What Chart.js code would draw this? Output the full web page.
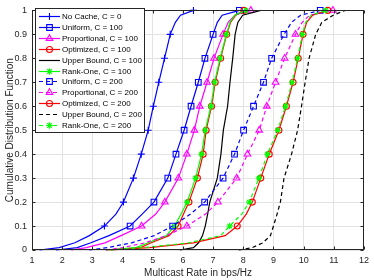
<!DOCTYPE html>
<html><head><meta charset="utf-8">
<script src="https://cdn.jsdelivr.net/npm/chart.js@4/dist/chart.umd.min.js"></script>
<style>html,body{margin:0;padding:0;background:#fff;}#wrap{width:374px;height:280px;}</style>
</head><body><div id="wrap"><canvas id="c" width="374" height="280"></canvas></div>
<script>
// CDF levels (y values) shared by all series
const cdfLevels = [0, 0.01, 0.03, 0.06, 0.1, 0.15, 0.2, 0.3, 0.4, 0.5, 0.6, 0.7, 0.8, 0.9, 0.95, 0.98, 1];
const markerLevels = [0.1, 0.2, 0.3, 0.4, 0.5, 0.6, 0.7, 0.8, 0.9, 1];
// multicast rate (bps/Hz) reached at each CDF level
const noCache    = [1.25, 1.9, 2.42, 2.9, 3.4, 3.78, 4.03, 4.36, 4.62, 4.85, 5.02, 5.2, 5.39, 5.58, 5.75, 5.92, 6.35];
const uniform100 = [1.8, 2.5, 2.95, 3.55, 4.25, 4.65, 5.04, 5.5, 5.77, 6.04, 6.27, 6.51, 6.73, 7.0, 7.14, 7.3, 7.87];
const prop100    = [2.3, 2.8, 3.42, 3.95, 4.63, 5.1, 5.4, 5.85, 6.13, 6.38, 6.56, 6.8, 7.03, 7.33, 7.5, 7.72, 8.25];
const opt100     = [3.45, 4.6, 4.95, 5.54, 5.84, 6.02, 6.2, 6.48, 6.67, 6.77, 6.95, 7.07, 7.25, 7.45, 7.58, 7.75, 8.02];
const rank100    = [3.45, 4.45, 4.85, 5.45, 5.72, 5.94, 6.14, 6.42, 6.62, 6.74, 6.93, 7.05, 7.23, 7.44, 7.56, 7.72, 8.09];
const upper100   = [5.9, 6.35, 6.52, 6.65, 6.74, 6.82, 6.89, 7.14, 7.26, 7.34, 7.48, 7.56, 7.65, 7.73, 7.82, 7.98, 8.58];
const uniform200 = [2.9, 3.5, 4.3, 5.05, 5.66, 6.25, 6.72, 7.33, 7.71, 8.01, 8.34, 8.67, 8.94, 9.35, 9.6, 9.9, 10.55];
const prop200    = [3.45, 4.0, 4.75, 5.45, 6.13, 6.75, 7.16, 7.78, 8.14, 8.53, 8.78, 9.07, 9.37, 9.73, 9.95, 10.2, 10.97];
const opt200     = [3.6, 4.9, 6.35, 7.4, 7.8, 8.1, 8.3, 8.58, 8.86, 9.18, 9.43, 9.65, 9.82, 9.98, 10.1, 10.3, 10.8];
const rank200    = [3.6, 4.7, 6.2, 7.25, 7.55, 7.95, 8.2, 8.52, 8.8, 9.14, 9.4, 9.62, 9.8, 9.96, 10.07, 10.25, 10.73];
const upper200   = [7.85, 8.3, 8.65, 8.9, 9.0, 9.12, 9.23, 9.35, 9.6, 9.8, 9.93, 10.05, 10.18, 10.4, 10.6, 10.98, 11.38];

const seriesNames = ['No Cache, C = 0', 'Uniform, C = 100', 'Proportional, C = 100', 'Optimized, C = 100',
  'Upper Bound, C = 100', 'Rank-One, C = 100', 'Uniform, C = 200', 'Proportional, C = 200',
  'Optimized, C = 200', 'Upper Bound, C = 200', 'Rank-One, C = 200'];
const seriesValues = [noCache, uniform100, prop100, opt100, upper100, rank100, uniform200, prop200, opt200, upper200, rank200];
const xTicks = [1, 2, 3, 4, 5, 6, 7, 8, 9, 10, 11, 12];
const yTicks = [0, 0.1, 0.2, 0.3, 0.4, 0.5, 0.6, 0.7, 0.8, 0.9, 1];
const yTickLabels = ['0', '0.1', '0.2', '0.3', '0.4', '0.5', '0.6', '0.7', '0.8', '0.9', '1'];
const xTitle = 'Multicast Rate in bps/Hz';
const yTitle = 'Cumulative Distribution Function';

// styles
const styles = [
  {c:'#0000ff', m:'cross', r:3.5, dash:[]},
  {c:'#0000ff', m:'rect', r:4, dash:[]},
  {c:'#ff00ff', m:'triangle', r:3.8, dash:[]},
  {c:'#ff0000', m:'circle', r:3, dash:[]},
  {c:'#000000', m:false, r:0, dash:[]},
  {c:'#00ff00', m:'star', r:3.2, dash:[]},
  {c:'#0000ff', m:'rect', r:4, dash:[4,3]},
  {c:'#ff00ff', m:'triangle', r:3.8, dash:[4,3]},
  {c:'#ff0000', m:'circle', r:3, dash:[]},
  {c:'#000000', m:false, r:0, dash:[4,3]},
  {c:'#00ff00', m:'star', r:3.2, dash:[4,3]}
];
const FONT = "'Liberation Sans', Arial, Helvetica, sans-serif";

const datasets = seriesValues.map((vals, i) => {
  const s = styles[i];
  return {
    label: seriesNames[i],
    data: vals.map((v, k) => ({x: v, y: cdfLevels[k]})),
    showLine: true,
    borderColor: s.c,
    backgroundColor: 'rgba(0,0,0,0)',
    borderWidth: 1.2,
    borderDash: s.dash,
    pointStyle: s.m || 'circle',
    pointBorderColor: s.c,
    pointBackgroundColor: 'rgba(0,0,0,0)',
    pointBorderWidth: 1.1,
    pointRadius: ctx => (s.m && markerLevels.includes(cdfLevels[ctx.dataIndex])) ? s.r : 0,
    pointHoverRadius: 0,
    tension: 0,
    clip: false,
    order: seriesValues.length - i
  };
});

function drawMarker(ctx, m, x, y, r, color) {
  ctx.save();
  ctx.strokeStyle = color; ctx.lineWidth = 1.1; ctx.setLineDash([]);
  ctx.beginPath();
  if (m === 'cross') {
    ctx.moveTo(x - r, y); ctx.lineTo(x + r, y); ctx.moveTo(x, y - r); ctx.lineTo(x, y + r);
  } else if (m === 'rect') {
    const h = r * Math.SQRT1_2; ctx.rect(x - h, y - h, 2 * h, 2 * h);
  } else if (m === 'triangle') {
    ctx.moveTo(x, y - r); ctx.lineTo(x + r * 0.866, y + r * 0.5); ctx.lineTo(x - r * 0.866, y + r * 0.5); ctx.closePath();
  } else if (m === 'circle') {
    ctx.arc(x, y, r, 0, Math.PI * 2);
  } else if (m === 'star') {
    for (let a = 0; a < 4; a++) {
      const ang = a * Math.PI / 4;
      ctx.moveTo(x - r * Math.cos(ang), y - r * Math.sin(ang));
      ctx.lineTo(x + r * Math.cos(ang), y + r * Math.sin(ang));
    }
  }
  ctx.stroke();
  ctx.restore();
}

const framePlugin = {
  id: 'frame',
  afterDatasetsDraw(chart) {
    const {ctx, chartArea: a, scales} = chart;
    const L = Math.round(a.left) + 0.5, R = Math.round(a.right) - 0.5;
    const T = Math.round(a.top) + 0.5, B = Math.round(a.bottom) - 0.5;
    ctx.save();
    ctx.strokeStyle = '#262626'; ctx.lineWidth = 1; ctx.setLineDash([]);
    ctx.strokeRect(L, T, R - L, B - T);
    ctx.beginPath();
    xTicks.forEach(v => {
      const px = Math.round(scales.x.getPixelForValue(v)) + 0.5;
      ctx.moveTo(px, B); ctx.lineTo(px, B - 3);
      ctx.moveTo(px, T); ctx.lineTo(px, T + 3);
    });
    yTicks.forEach(v => {
      const py = Math.round(scales.y.getPixelForValue(v)) + 0.5;
      ctx.moveTo(L, py); ctx.lineTo(L + 3, py);
      ctx.moveTo(R, py); ctx.lineTo(R - 3, py);
    });
    ctx.stroke();

    // legend
    const bx = 35.5, by = 8.5, bw = 109, bh = 124, row0 = 16, dy = 10.9;
    ctx.fillStyle = '#ffffff';
    ctx.fillRect(bx, by, bw, bh);
    ctx.strokeStyle = '#262626';
    ctx.strokeRect(bx, by, bw, bh);
    ctx.font = '8px ' + FONT;
    ctx.textBaseline = 'middle';
    ctx.textAlign = 'left';
    seriesNames.forEach((name, i) => {
      const s = styles[i];
      const yy = Math.round(row0 + i * dy) + 0.5;
      ctx.save();
      ctx.strokeStyle = s.c; ctx.lineWidth = 1.2; ctx.setLineDash(s.dash);
      ctx.beginPath(); ctx.moveTo(39, yy); ctx.lineTo(60, yy); ctx.stroke();
      ctx.restore();
      if (s.m) drawMarker(ctx, s.m, 49.5, yy, s.r, s.c);
      ctx.fillStyle = '#000000';
      ctx.fillText(name, 62, yy);
    });
    ctx.restore();
  }
};

new Chart(document.getElementById('c'), {
  type: 'scatter',
  data: {datasets},
  options: {
    responsive: false,
    animation: false,
    devicePixelRatio: 1,
    layout: {padding: {top: 5, right: 6, left: 0, bottom: 0}},
    plugins: {legend: {display: false}, tooltip: {enabled: false}},
    scales: {
      x: {
        type: 'linear', min: 1, max: 12,
        afterBuildTicks: s => { s.ticks = xTicks.map(v => ({value: v})); },
        afterFit: s => { s.height = 30; },
        ticks: {color: '#262626', font: {size: 9, family: FONT}, padding: 5, maxRotation: 0,
          callback: (v, i) => String(xTicks[i])},
        grid: {color: '#e3e3e3', drawTicks: false},
        border: {display: false},
        title: {display: true, text: xTitle, color: '#262626', font: {size: 10, family: FONT}, padding: {top: 0, bottom: 1}}
      },
      y: {
        type: 'linear', min: 0, max: 1,
        afterBuildTicks: s => { s.ticks = yTicks.map(v => ({value: v})); },
        afterFit: s => { s.width = 32; },
        ticks: {color: '#262626', font: {size: 9, family: FONT}, padding: 5,
          callback: (v, i) => yTickLabels[i]},
        grid: {color: '#e3e3e3', drawTicks: false},
        border: {display: false},
        title: {display: true, text: yTitle, color: '#262626', font: {size: 10, family: FONT}, padding: {top: 4, bottom: 0}}
      }
    }
  },
  plugins: [framePlugin]
});
</script>
</body></html>
